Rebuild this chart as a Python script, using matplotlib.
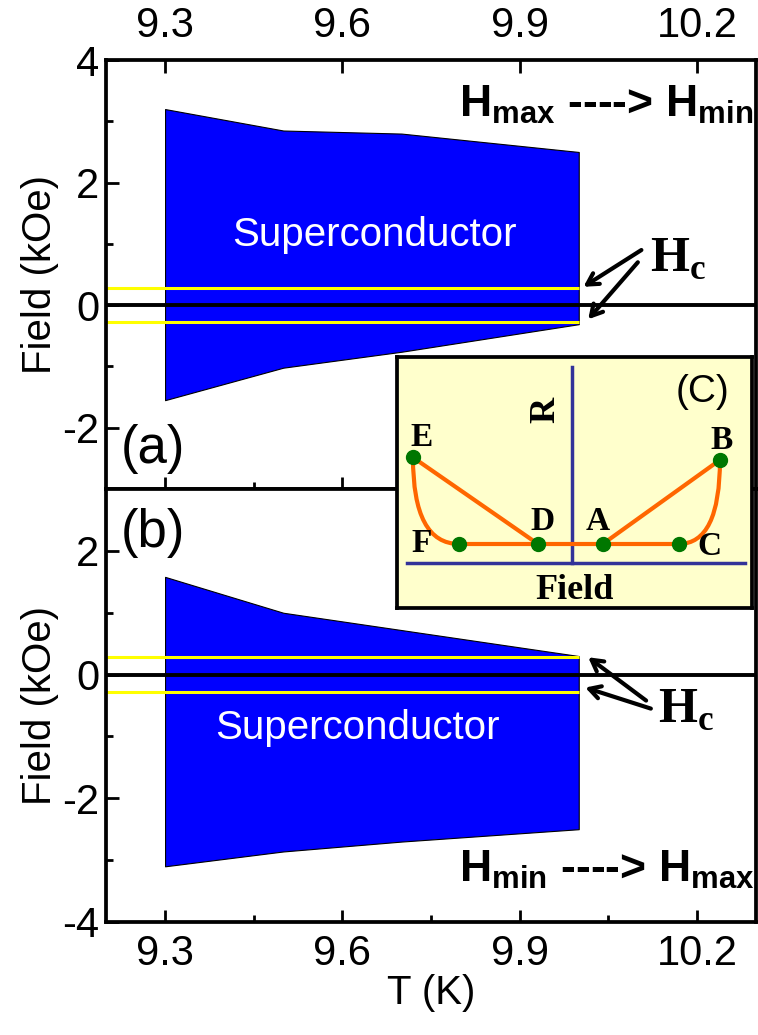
import matplotlib.pyplot as plt
from matplotlib.path import Path
from matplotlib.patches import PathPatch

plt.rcParams['font.family'] = ['Liberation Sans', 'DejaVu Sans']
plt.rcParams['axes.unicode_minus'] = False
plt.rcParams['mathtext.fontset'] = 'custom'
plt.rcParams['mathtext.sf'] = 'Liberation Sans:bold'
plt.rcParams['mathtext.rm'] = 'Liberation Serif:bold'

# panel (a): H decreasing
temps_a = [9.3, 9.5, 9.7, 10.0]
upper_a = [3.2, 2.85, 2.8, 2.5]
lower_a = [-1.55, -1.02, -0.76, -0.31]

# panel (b): H increasing
temps_b = [9.3, 9.5, 9.7, 10.0]
upper_b = [1.58, 1.0, 0.72, 0.3]
lower_b = [-3.1, -2.86, -2.7, -2.5]

hc = 0.28
xticks = [9.3, 9.6, 9.9, 10.2]
xminor = [9.45, 9.75, 10.05]

# inset (C) schematic R vs field
inset_names = ['E', 'F', 'D', 'A', 'C', 'B']
inset_x = [0.045, 0.175, 0.397, 0.580, 0.794, 0.910]
inset_y = [0.60, 0.255, 0.255, 0.255, 0.255, 0.59]

blue = '#0000FF'
fs = 30


def style(ax, ylim, yticks):
    for s in ax.spines.values():
        s.set_linewidth(2.7)
    ax.set_xlim(9.2, 10.3)
    ax.set_ylim(*ylim)
    ax.set_xticks(xticks)
    ax.set_xticks(xminor, minor=True)
    ax.set_yticks(yticks)
    ax.set_yticks([y + 1 for y in yticks if y + 1 < ylim[1]], minor=True)
    ax.tick_params(which='both', direction='in', width=2, labelsize=fs)
    ax.tick_params(which='major', length=9)
    ax.tick_params(which='minor', length=5)
    ax.tick_params(axis='y', pad=5)
    ax.set_ylabel('Field (kOe)', fontsize=29, labelpad=2)


fig = plt.figure(figsize=(7.58, 10.35), dpi=100)
ax1 = fig.add_axes([0.1398, 0.5275, 0.8576, 0.4145])
ax2 = fig.add_axes([0.1398, 0.1092, 0.8576, 0.4183])

arrow = dict(arrowstyle='->,head_length=0.8,head_width=0.45', lw=3, color='k',
             shrinkA=0, shrinkB=0)

# ---- top panel
style(ax1, (-3, 4), [-2, 0, 2, 4])
ax1.tick_params(axis='x', top=True, bottom=True, labeltop=True, labelbottom=False, pad=10)
ax1.fill_between(temps_a, lower_a, upper_a, facecolor=blue, edgecolor='k', lw=0.8, zorder=1)
ax1.hlines([hc, -hc], 9.2, temps_a[-1], color='#FFFF00', lw=2.2, zorder=2)
ax1.axhline(0, color='k', lw=2.8, zorder=3)
ax1.text(9.655, 1.15, 'Superconductor', color='white', fontsize=29, ha='center', va='center')
ax1.text(9.225, -2.35, '(a)', fontsize=38, ha='left', va='center')
ax1.text(9.797, 3.08, r'$\mathsf{H}_\mathsf{max}$ ----> $\mathsf{H}_\mathsf{min}$',
         fontsize=32, fontweight='bold', ha='left', va='baseline')
ax1.text(10.121, 0.54, r'$\mathrm{H}_\mathrm{c}$', fontsize=36, ha='left', va='baseline')
for tail, head in [((10.106, 0.90), (10.008, 0.30)), ((10.100, 0.70), (10.016, -0.23))]:
    ax1.annotate('', xy=head, xytext=tail, arrowprops=arrow)

# ---- bottom panel
style(ax2, (-4, 3), [-4, -2, 0, 2])
ax2.tick_params(axis='x', top=False, bottom=True, labelbottom=True, pad=9)
ax2.fill_between(temps_b, lower_b, upper_b, facecolor=blue, edgecolor='k', lw=0.8, zorder=1)
ax2.hlines([hc, -hc], 9.2, temps_b[-1], color='#FFFF00', lw=2.2, zorder=2)
ax2.axhline(0, color='k', lw=2.8, zorder=3)
ax2.text(9.625, -0.86, 'Superconductor', color='white', fontsize=29, ha='center', va='center')
ax2.text(9.225, 2.29, '(b)', fontsize=38, ha='left', va='center')
ax2.text(9.797, -3.35, r'$\mathsf{H}_\mathsf{min}$ ----> $\mathsf{H}_\mathsf{max}$',
         fontsize=32, fontweight='bold', ha='left', va='baseline')
ax2.text(10.134, -0.78, r'$\mathrm{H}_\mathrm{c}$', fontsize=36, ha='left', va='baseline')
for tail, head in [((10.114, -0.42), (10.016, 0.28)), ((10.122, -0.55), (10.011, -0.21))]:
    ax2.annotate('', xy=head, xytext=tail, arrowprops=arrow)
ax2.set_xlabel('T (K)', fontsize=29, labelpad=0)

# ---- inset
axi = fig.add_axes([0.5237, 0.4126, 0.4683, 0.2425], zorder=5)
axi.set_facecolor('#FFFFCC')
axi.set_xlim(0, 1)
axi.set_ylim(0, 1)
axi.set_xticks([])
axi.set_yticks([])
for s in axi.spines.values():
    s.set_linewidth(2.7)

navy = '#333399'
axi.plot([0.493, 0.493], [0.18, 0.96], color=navy, lw=2.5)
axi.plot([0.028, 0.98], [0.18, 0.18], color=navy, lw=2.5)

orange = '#FF6600'
pts = dict(zip(inset_names, zip(inset_x, inset_y)))
E, F, D, A, C, B = (pts[k] for k in inset_names)
axi.plot([E[0], D[0]], [E[1], D[1]], color=orange, lw=3)
axi.plot([A[0], B[0]], [A[1], B[1]], color=orange, lw=3)
axi.plot([F[0], C[0]], [F[1], C[1]], color=orange, lw=3)
for start, end in [(E, F), (B, C)]:
    path = Path([start, (start[0], end[1]), end], [Path.MOVETO, Path.CURVE3, Path.CURVE3])
    axi.add_patch(PathPatch(path, facecolor='none', edgecolor=orange, lw=3))
axi.plot(inset_x, inset_y, 'o', color='#007700', ms=10, ls='none', zorder=4)

offsets = {'E': (6, 14), 'B': (1, 14), 'D': (3, 16), 'A': (-4, 16), 'F': (-27, 0), 'C': (22, -2)}
for name, x, y in zip(inset_names, inset_x, inset_y):
    axi.annotate(name, (x, y), xytext=offsets[name], textcoords='offset points',
                 ha='center', va='center', fontsize=24, fontweight='bold',
                 family='Liberation Serif')
axi.text(0.42, 0.79, 'R', rotation=90, ha='center', va='center', fontsize=26,
         fontweight='bold', family='Liberation Serif')
axi.text(0.5, 0.07, 'Field', ha='center', va='center', fontsize=26,
         fontweight='bold', family='Liberation Serif')
axi.text(0.862, 0.86, '(C)', ha='center', va='center', fontsize=28)

fig.savefig('out.png', dpi=100)
